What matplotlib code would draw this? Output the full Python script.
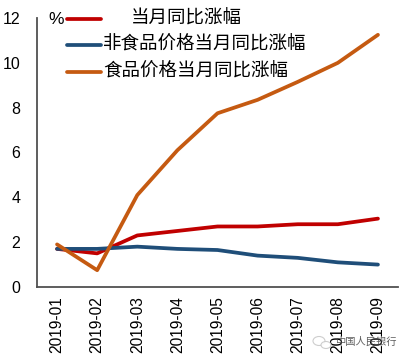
import matplotlib
matplotlib.use("Agg")
import matplotlib.pyplot as plt
from matplotlib.lines import Line2D
from matplotlib.patches import Ellipse

months = ["2019-01", "2019-02", "2019-03", "2019-04", "2019-05", "2019-06", "2019-07", "2019-08", "2019-09"]
cpi = [1.7, 1.5, 2.3, 2.5, 2.7, 2.7, 2.8, 2.8, 3.05]
non_food = [1.7, 1.7, 1.8, 1.7, 1.65, 1.4, 1.3, 1.1, 1.0]
food = [1.9, 0.75, 4.1, 6.1, 7.75, 8.35, 9.15, 10.0, 11.25]
y_ticks = [0, 2, 4, 6, 8, 10, 12]

RED = "#c00000"
BLUE = "#1f4e79"
ORANGE = "#c55a11"
W, H = 408, 360

plt.rcParams["font.family"] = ["Liberation Sans", "Noto Sans CJK SC", "DejaVu Sans"]

fig = plt.figure(figsize=(W / 100, H / 100), dpi=100)
ax = fig.add_axes([37 / W, 1 - 287 / H, (398 - 37) / W, (287 - 18) / H])

ax.plot(months, cpi, color=RED, lw=2.7, solid_capstyle="round")
ax.plot(months, non_food, color=BLUE, lw=2.7, solid_capstyle="round")
ax.plot(months, food, color=ORANGE, lw=2.7, solid_capstyle="round")

ax.set_xlim(-0.5, 8.5)
ax.set_ylim(0, 12)
ax.set_yticks(y_ticks)
ax.tick_params(axis="y", length=0, labelsize=11.5, colors="black", pad=12)
ax.tick_params(axis="x", length=0, labelsize=11.2, colors="black", pad=6.5)
plt.setp(ax.get_xticklabels(), rotation=90)

for side in ["top", "right"]:
    ax.spines[side].set_visible(False)
for side in ["left", "bottom"]:
    ax.spines[side].set_color("#505050")
    ax.spines[side].set_linewidth(1.3)

# legend drawn by hand, same as the source picture
legend_rows = [
    ("当月同比涨幅", RED, 131, 19),
    ("非食品价格当月同比涨幅", BLUE, 103, 45),
    ("食品价格当月同比涨幅", ORANGE, 103, 72),
]
for label, color, text_x, y in legend_rows:
    fig.add_artist(Line2D([67 / W, 101 / W], [1 - y / H, 1 - y / H], color=color, lw=2.7, solid_capstyle="round"))
    fig.text(text_x / W, 1 - y / H, label, fontsize=13.3, va="center", ha="left", color="black")
fig.text(48 / W, 1 - 19 / H, "%", fontsize=12.5, va="center", ha="left", color="black")

# watermark in the corner
for cx, cy, ew, eh in [(319, 341, 12, 9), (326, 345, 10, 7)]:
    fig.add_artist(Ellipse((cx / W, 1 - cy / H), ew / W, eh / H, transform=fig.transFigure,
                           fc="white", ec="#c8c8c8", lw=0.8, alpha=0.9))
fig.text(335 / W, 1 - 342 / H, "中国人民银行", fontsize=7.4, va="center", ha="left", color="#444444", alpha=0.85)

fig.savefig("out.png", dpi=100)
